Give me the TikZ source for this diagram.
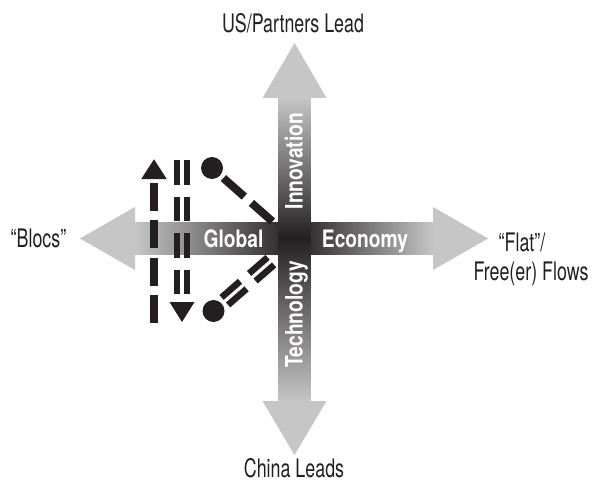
\documentclass[tikz,border=0pt]{standalone}
\usepackage{fontspec}
\setmainfont{TeX Gyre Heros}[FakeStretch=0.7]
\newfontfamily\armfont{TeX Gyre Heros}[FakeStretch=0.8]
\usetikzlibrary{arrows.meta}
\usetikzlibrary{calc}
\usetikzlibrary{positioning}
\definecolor{ink}{HTML}{231F20}
\colorlet{armgray}{gray!45}

\begin{document}
\begin{tikzpicture}[x=1pt,y=-1pt,
    axislabel/.style={font=\fontsize{25.5}{29}\selectfont, text=ink, inner sep=0pt},
    armlabel/.style={font=\armfont\bfseries\fontsize{24}{24}\selectfont, text=white, inner sep=0pt},
    dot/.style={circle, fill=ink, minimum size=22pt, inner sep=0pt},
    dashline/.style={draw=ink, line width=8pt, dash pattern=on 28pt off 9.5pt},
    twinline/.style={draw=ink, line width=6.5pt, dash pattern=on 24.5pt off 12pt}]
  \useasboundingbox (0,0) rectangle (594,484);
  %fancy gray arms
  \shade[left color=armgray, right color=ink] (135,222.5) rectangle (294.5,254.5);
  \fill[armgray] (135,207) -- (80,238.5) -- (135,270) -- cycle;
  \shade[left color=ink, right color=armgray] (294.5,222.5) rectangle (433,254.5);
  \fill[armgray] (433,207) -- (488,238.5) -- (433,270) -- cycle;
  \shade[top color=armgray, bottom color=ink] (278.5,98) rectangle (310.5,238.5);
  \fill[armgray] (262.5,98) -- (294.5,43) -- (326.5,98) -- cycle;
  \shade[top color=ink, bottom color=armgray] (278.5,238.5) rectangle (310.5,401);
  \fill[armgray] (262.5,401) -- (294.5,455) -- (326.5,401) -- cycle;
  %axis ends
  \node[axislabel, anchor=base] (lead) at (293,33) {US/Partners Lead};
  \node[axislabel, anchor=base] (china) at (294,477.5) {China Leads};
  \node[axislabel, anchor=base] (blocs) at (38.5,247) {“Blocs”};
  \node[axislabel, anchor=base] (flat) at (522,251) {“Flat”/};
  \node[axislabel, anchor=base] (flows) at (531,280) {Free(er) Flows};
  %words on the arms
  \node[armlabel, anchor=base] (global) at (233.5,247) {Global};
  \node[armlabel, anchor=base] (economy) at (365,247) {Economy};
  \node[armlabel, anchor=base, rotate=90] (innov) at (302.5,161) {Innovation};
  \node[armlabel, anchor=base, rotate=90] (tech) at (302.5,314.5) {Technology};
  %moves between the blocs
  \coordinate (ubot) at (154,323);
  \coordinate (utop) at (154,159);
  \draw[dashline, -{Triangle[width=24pt,length=20pt]}] (ubot) -- (utop);
  \coordinate (dtop) at (182,160);
  \coordinate (dbot) at (182,297);
  \coordinate (dtip) at (182,322);
  \draw[twinline] ([xshift=-5pt]dtop) -- ([xshift=-5pt]dbot);
  \draw[twinline] ([xshift=5pt]dtop) -- ([xshift=5pt]dbot);
  \fill[ink] (dtip) -- ++(-12.5,-20) -- ++(25,0) -- cycle;
  \node[dot] (ptop) at (212,168) {};
  \node[dot] (pbot) at (213.5,311) {};
  \coordinate (etop) at (273,222);
  \coordinate (ebot) at (271,261);
  \draw[dashline, shorten <=4pt] (ptop) -- (etop);
  \draw[twinline, shorten <=15pt] ($(pbot)!5pt!90:(ebot)$) -- ($(ebot)!5pt!-90:(pbot)$);
  \draw[twinline, shorten <=15pt] ($(pbot)!5pt!-90:(ebot)$) -- ($(ebot)!5pt!90:(pbot)$);
\end{tikzpicture}
\end{document}
